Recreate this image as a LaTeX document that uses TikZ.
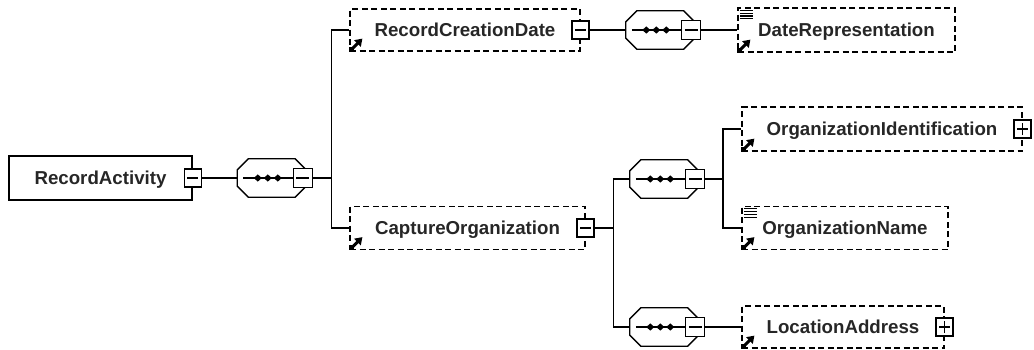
\documentclass[tikz,border=0pt]{standalone}
\usepackage{fontspec}
\setmainfont{Liberation Sans}
\usetikzlibrary{arrows.meta,calc}
\definecolor{txt}{HTML}{262626}
\begin{document}
\begin{tikzpicture}[x=1pt,y=-1pt,
  lab/.style={font=\fontsize{18.7}{22}\selectfont\bfseries, text=txt, text height=13.4pt, text depth=0pt, inner sep=0pt},
  solidbox/.style={lab, draw, line width=1.6pt},
  optbox/.style={lab, draw, line width=1.2pt, dash pattern=on 6pt off 3.5pt},
  expbox/.style={draw, fill=white, line width=1.3pt, minimum width=17pt, minimum height=18pt, inner sep=0pt},
  minus/.style={expbox, path picture={\draw[line width=1.2pt] ([xshift=3pt]path picture bounding box.west) -- ([xshift=-3pt]path picture bounding box.east);}},
  plus/.style={expbox, path picture={
      \draw[line width=1.2pt] ([xshift=3pt]path picture bounding box.west) -- ([xshift=-3pt]path picture bounding box.east);
      \draw[line width=1.2pt] ([yshift=3pt]path picture bounding box.south) -- ([yshift=-3pt]path picture bounding box.north);}},
  cminus/.style={minus, minimum width=19pt, minimum height=19pt},
  comp/.style={minimum width=68.5pt, minimum height=38pt, inner sep=0pt},
  conn/.style={line width=1.4pt},
  outline/.style={line width=1.3pt}
]
\useasboundingbox (0,0) rectangle (1034,349);

% element boxes
\node[solidbox, minimum width=183pt, minimum height=44pt] (ra) at (100.5,178) {RecordActivity};
\node[optbox, minimum width=230pt, minimum height=42pt] (rcd) at (465,30) {RecordCreationDate};
\node[optbox, minimum width=217pt, minimum height=44pt] (dr) at (846.5,30) {DateRepresentation};
\node[optbox, minimum width=235pt, minimum height=43pt] (co) at (467.5,228) {CaptureOrganization};
\node[optbox, minimum width=280pt, minimum height=44pt] (oi) at (882,129) {OrganizationIdentification};
\node[optbox, minimum width=206pt, minimum height=43pt] (on) at (845,228) {OrganizationName};
\node[optbox, minimum width=202pt, minimum height=42pt] (la) at (843,327) {LocationAddress};

% compositors
\node[comp] (c1) at (271.75,178) {};
\node[comp] (c2) at (660.25,30) {};
\node[comp] (c3) at (664.25,179) {};
\node[comp] (c4) at (664.25,327) {};
\foreach \c in {c1,c2,c3,c4} {
  \draw[outline] ([xshift=11pt]\c.north west) -- ([xshift=-11pt]\c.north east)
    -- ([yshift=-11pt]\c.north east) -- ([yshift=11pt]\c.south east)
    -- ([xshift=-11pt]\c.south east) -- ([xshift=11pt]\c.south west)
    -- ([yshift=11pt]\c.south west) -- ([yshift=-11pt]\c.north west) -- cycle;
  \draw[line width=1.2pt] ($(\c.west)+(6,0)$) -- ($(\c.west)+(58,0)$);
  \foreach \d in {20.5,30.5,40.5}
    \fill ($(\c.west)+(\d,0)$) +(-4,0) -- +(0,-3.6) -- +(4,0) -- +(0,3.6) -- cycle;
}

% icons: reference arrow (bottom left) and simple-content lines (top left)
\foreach \b in {rcd,dr,co,oi,on,la} {
  \fill ([shift={(0pt,0pt)}]\b.south west) rectangle ([shift={(5pt,5pt)}]\b.south west);
  \draw[line width=3pt, -{Triangle[length=7pt,width=9pt]}]
    ([shift={(2pt,2pt)}]\b.south west) -- ([shift={(13pt,13pt)}]\b.south west);
}
\foreach \b in {dr,on} {
  \foreach \k in {3,5.8,8.6,11.4}
    \draw[line width=1.1pt] ([shift={(2.5pt,-\k pt)}]\b.north west) -- ([shift={(16pt,-\k pt)}]\b.north west);
}

% expanders
\node[minus] (e0) at (ra.east) {};
\node[minus] (e1) at (rcd.east) {};
\node[minus] (e2) at (co.east) {};
\node[plus] (e3) at (oi.east) {};
\node[plus] (e4) at (la.east) {};
\node[cminus] (ec1) at ($(c1.west)+(65.5,0)$) {};
\node[cminus] (ec2) at ($(c2.west)+(65.5,0)$) {};
\node[cminus] (ec3) at ($(c3.west)+(65.5,0)$) {};
\node[cminus] (ec4) at ($(c4.west)+(65.5,0)$) {};

% connectors
\draw[conn] (e0.east) -- (c1.west);
\draw[conn] (ec1.east) -- ++(18.5,0) coordinate (v1);
\draw[conn] (rcd.west) -| (v1) |- (co.west);
\draw[conn] (e1.east) -- (c2.west);
\draw[conn] (ec2.east) -- (dr.west);
\draw[conn] (e2.east) -- ++(18.5,0) coordinate (v2);
\draw[conn] (c3.west) -| (v2) |- (c4.west);
\draw[conn] (ec3.east) -- ++(17.5,0) coordinate (v3);
\draw[conn] (oi.west) -| (v3) |- (on.west);
\draw[conn] (ec4.east) -- (la.west);
\end{tikzpicture}
\end{document}
